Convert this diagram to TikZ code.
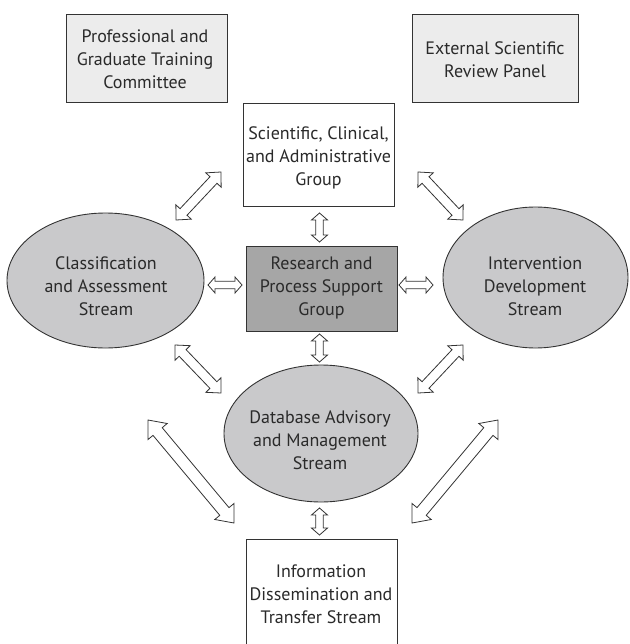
\documentclass[tikz,border=0pt]{standalone}
\usepackage{fontspec}
\setmainfont{PT Sans}
\usetikzlibrary{calc,shapes.geometric}
\definecolor{txt}{HTML}{2A2A2A}
\definecolor{edge}{HTML}{333333}
\definecolor{lightbox}{HTML}{ECECEC}
\definecolor{ellfill}{HTML}{C9C9CB}
\definecolor{darkbox}{HTML}{A6A6A6}
% #1,#2 end points; #3 head length; #4 head half width; #5 shaft half width
\newcommand\dblarrow[5]{%
  \draw[arrowshape] (#1)
    -- ($(#1)!#3!(#2)!#4!90:(#2)$)
    -- ($(#1)!#3!(#2)!#5!90:(#2)$)
    -- ($(#2)!#3!(#1)!#5!-90:(#1)$)
    -- ($(#2)!#3!(#1)!#4!-90:(#1)$)
    -- (#2)
    -- ($(#2)!#3!(#1)!#4!90:(#1)$)
    -- ($(#2)!#3!(#1)!#5!90:(#1)$)
    -- ($(#1)!#3!(#2)!#5!-90:(#2)$)
    -- ($(#1)!#3!(#2)!#4!-90:(#2)$)
    -- cycle;}
\tikzset{
  box/.style={draw=edge, line width=0.9pt, rectangle, inner sep=0pt},
  ell/.style={draw=edge, line width=0.9pt, ellipse, inner sep=0pt, fill=ellfill},
  label/.style={text=txt, align=center, inner sep=0pt, font=\fontsize{18}{23}\selectfont},
  arrowshape/.style={draw=edge, line width=0.8pt, fill=white, line join=miter},
}
\begin{document}
\begin{tikzpicture}[x=1pt,y=-1pt]
\useasboundingbox (0,0) rectangle (629,644);
\clip (0,0) rectangle (629,644);
\fill[white] (0,0) rectangle (629,644);

% boxes
\node[box, fill=lightbox, minimum width=161pt, minimum height=88pt] (pgt) at (146.5,58) {};
\node[box, fill=lightbox, minimum width=166pt, minimum height=88pt] (esr) at (495,58) {};
\node[box, fill=white, minimum width=151pt, minimum height=103pt] (sca) at (318.5,154.5) {};
\node[box, fill=darkbox, minimum width=151pt, minimum height=85pt] (rps) at (321.5,288.5) {};
\node[box, fill=white, minimum width=151pt, minimum height=130pt] (ids) at (321.5,604) {};
% ellipses
\node[ell, minimum width=197pt, minimum height=135pt] (cas) at (105.5,280.5) {};
\node[ell, minimum width=185pt, minimum height=141pt] (ids2) at (535.5,277.5) {};
\node[ell, minimum width=194pt, minimum height=137pt] (dam) at (321,433.5) {};

% texts
\node[label] (pgtt) at (145,59) {Professional and\\Graduate Training\\Committee};
\node[label] (esrt) at (495,59.5) {External Scientific\\Review Panel};
\node[label] (scat) at (318.5,158) {Scientific, Clinical,\\and Administrative\\Group};
\node[label] (rpst) at (321.5,288) {Research and\\Process Support\\Group};
\node[label] (cast) at (106,286) {Classification\\and Assessment\\Stream};
\node[label] (idst2) at (535,286) {Intervention\\Development\\Stream};
\node[label] (damt) at (320,440) {Database Advisory\\and Management\\Stream};
\node[label] (idst) at (321,594) {Information\\Dissemination and\\Transfer Stream};

% arrow end points
\coordinate (a1s) at (319.5,213);  \coordinate (a1e) at (319.5,242);
\coordinate (a2s) at (319.5,334);  \coordinate (a2e) at (319.5,362);
\coordinate (a3s) at (319.5,508);  \coordinate (a3e) at (319.5,535);
\coordinate (a4s) at (208,285);  \coordinate (a4e) at (242,285);
\coordinate (a5s) at (399,285);  \coordinate (a5e) at (433,285);
\coordinate (a6s) at (176,220);  \coordinate (a6e) at (221,172);
\coordinate (a7s) at (418,172);  \coordinate (a7e) at (463,220);
\coordinate (a8s) at (175,345);  \coordinate (a8e) at (221,393);
\coordinate (a9s) at (463,345);  \coordinate (a9e) at (418,393);
\coordinate (a10s) at (148,420); \coordinate (a10e) at (234,523);
\coordinate (a11s) at (498,420); \coordinate (a11e) at (412,523);

\dblarrow{a1s}{a1e}{7pt}{8pt}{3.8pt}
\dblarrow{a2s}{a2e}{7pt}{8pt}{3.8pt}
\dblarrow{a3s}{a3e}{7pt}{8pt}{3.8pt}
\dblarrow{a4s}{a4e}{7pt}{8pt}{3.8pt}
\dblarrow{a5s}{a5e}{7pt}{8pt}{3.8pt}
\dblarrow{a6s}{a6e}{11pt}{10.5pt}{4.8pt}
\dblarrow{a7s}{a7e}{11pt}{10.5pt}{4.8pt}
\dblarrow{a8s}{a8e}{11pt}{10.5pt}{4.8pt}
\dblarrow{a9s}{a9e}{11pt}{10.5pt}{4.8pt}
\dblarrow{a10s}{a10e}{15pt}{12.5pt}{6pt}
\dblarrow{a11s}{a11e}{15pt}{12.5pt}{6pt}
\end{tikzpicture}
\end{document}
